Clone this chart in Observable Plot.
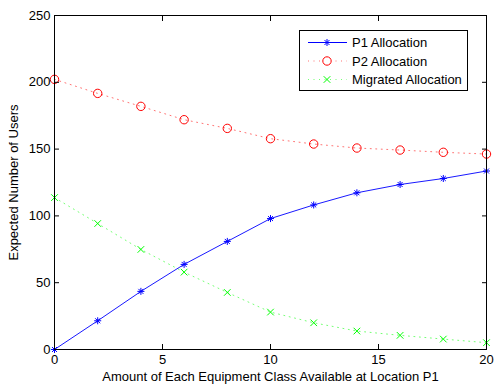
<!DOCTYPE html>
<html>
<head>
<meta charset="utf-8">
<script src="https://cdn.jsdelivr.net/npm/d3@7"></script>
<script src="https://cdn.jsdelivr.net/npm/@observablehq/plot@0.6"></script>
<style>
  html, body { margin: 0; padding: 0; background: white; }
</style>
</head>
<body>
<div id="chart"></div>
<script>
const amounts = [0, 2, 4, 6, 8, 10, 12, 14, 16, 18, 20];
const p1Allocation = [0, 21.5, 43.5, 63.7, 80.9, 98, 108.2, 117.3, 123.5, 128, 133.6];
const p2Allocation = [202.2, 191.7, 182, 172, 165.5, 157.8, 153.8, 150.8, 149.3, 147.6, 146.3];
const migratedAllocation = [113.7, 94.3, 74.9, 57.9, 42.7, 28, 20, 13.8, 10.6, 7.8, 5.1];
const xTicks = [0, 5, 10, 15, 20];
const yTicks = [0, 50, 100, 150, 200, 250];
const seriesNames = ["P1 Allocation", "P2 Allocation", "Migrated Allocation"];

const p1 = amounts.map((x, i) => ({x, y: p1Allocation[i]}));
const p2 = amounts.map((x, i) => ({x, y: p2Allocation[i]}));
const mig = amounts.map((x, i) => ({x, y: migratedAllocation[i]}));

const BLUE = "#0000ff", RED = "#ff0000", GREEN = "#00ff00";
const DOT = "1,4.5";
const DOT_OPACITY = 0.55;
const FONT = "'Liberation Sans', Arial, Helvetica, sans-serif";

const chart = Plot.plot({
  width: 494,
  height: 385,
  marginLeft: 54,
  marginRight: 8,
  marginTop: 15,
  marginBottom: 36,
  style: {fontFamily: FONT, fontSize: "13px", color: "black", background: "white", overflow: "visible"},
  x: {domain: [0, 20]},
  y: {domain: [0, 250]},
  marks: [
    Plot.line(p2, {x: "x", y: "y", stroke: RED, strokeWidth: 1, strokeDasharray: DOT, strokeOpacity: DOT_OPACITY}),
    Plot.dot(p2, {x: "x", y: "y", stroke: RED, r: 4.2, strokeWidth: 1}),
    Plot.line(mig, {x: "x", y: "y", stroke: GREEN, strokeWidth: 1, strokeDasharray: DOT, strokeOpacity: DOT_OPACITY}),
    Plot.dot(mig, {x: "x", y: "y", stroke: GREEN, symbol: "times", r: 3.1, strokeWidth: 1}),
    Plot.line(p1, {x: "x", y: "y", stroke: BLUE, strokeWidth: 1, strokeOpacity: 0.9}),
    Plot.dot(p1, {x: "x", y: "y", stroke: BLUE, symbol: "plus", r: 2.4, strokeWidth: 1}),
    Plot.dot(p1, {x: "x", y: "y", stroke: BLUE, symbol: "times", r: 2.4, strokeWidth: 1}),
    Plot.frame({stroke: "black", strokeWidth: 1}),
    Plot.axisX(xTicks, {anchor: "bottom", tickSize: -5, tickPadding: 10, label: "Amount of Each Equipment Class Available at Location P1", labelAnchor: "center", labelArrow: "none", labelOffset: 31}),
    Plot.axisX(xTicks, {anchor: "top", tickSize: -5, tickFormat: () => "", label: null}),
    Plot.axisY(yTicks, {anchor: "left", tickSize: -5, tickPadding: 9, label: "Expected Number of Users", labelAnchor: "center", labelArrow: "none", labelOffset: 46}),
    Plot.axisY(yTicks, {anchor: "right", tickSize: -5, tickFormat: () => "", label: null})
  ]
});

document.getElementById("chart").appendChild(chart);

// Legend (MATLAB-style box)
const svg = d3.select(chart);
const lg = svg.append("g").attr("font-family", FONT).attr("font-size", 13).attr("text-anchor", "start");
lg.append("rect").attr("x", 299.5).attr("y", 30.5).attr("width", 168).attr("height", 60)
  .attr("fill", "white").attr("stroke", "black").attr("stroke-width", 1);
const styles = [
  {color: BLUE, dash: null, sym: "asterisk"},
  {color: RED, dash: DOT, sym: "circle"},
  {color: GREEN, dash: DOT, sym: "x"}
];
seriesNames.forEach((name, i) => {
  const cy = 42.5 + i * 18.5;
  const st = styles[i];
  const ln = lg.append("line").attr("x1", 308).attr("x2", 347).attr("y1", cy).attr("y2", cy)
    .attr("stroke", st.color).attr("stroke-width", 1);
  if (st.dash) ln.attr("stroke-dasharray", st.dash).attr("stroke-opacity", DOT_OPACITY);
  const g = lg.append("g").attr("transform", `translate(327,${cy})`).attr("fill", "none").attr("stroke", st.color);
  if (st.sym === "circle") g.append("circle").attr("r", 4.2).attr("fill", "white");
  else if (st.sym === "x") g.append("path").attr("d", d3.symbol(d3.symbolTimes, 3.1 * 3.1 * Math.PI)());
  else {
    g.append("path").attr("d", d3.symbol(d3.symbolPlus, 2.4 * 2.4 * Math.PI)());
    g.append("path").attr("d", d3.symbol(d3.symbolTimes, 2.4 * 2.4 * Math.PI)());
  }
  lg.append("text").attr("x", 352).attr("y", cy).attr("dy", "0.35em").attr("fill", "black").text(name);
});
</script>
</body>
</html>
